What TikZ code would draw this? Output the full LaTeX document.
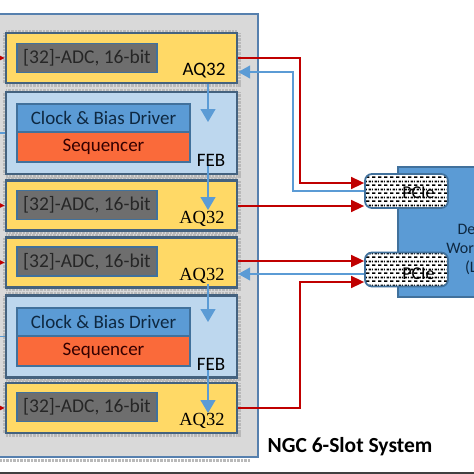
\documentclass[tikz,border=0pt]{standalone}
\usepackage{fontspec}
\setmainfont{Carlito}
\newfontfamily\timesfont{Liberation Serif}
\usetikzlibrary{arrows.meta,patterns}

\definecolor{chassisgray}{HTML}{D9D9D9}
\definecolor{chassisblue}{HTML}{5680AE}
\definecolor{slotblue}{HTML}{44627F}
\definecolor{aqyellow}{HTML}{FFD966}
\definecolor{feblue}{HTML}{BDD7EE}
\definecolor{adcgray}{HTML}{6E6E6E}
\definecolor{clkblue}{HTML}{5B9BD5}
\definecolor{boxblue}{HTML}{41719C}
\definecolor{seqorange}{HTML}{FA6A3A}
\definecolor{sigred}{HTML}{C00000}
\definecolor{navy}{HTML}{0E2841}

% dashed fill of the PCIe cards
\pgfdeclarepatternformonly{pciedash}{\pgfpointorigin}{\pgfpoint{6pt}{8pt}}{\pgfpoint{6pt}{8pt}}{%
  \pgfpathrectangle{\pgfpoint{0pt}{0pt}}{\pgfpoint{4pt}{1.8pt}}%
  \pgfpathrectangle{\pgfpoint{3pt}{4pt}}{\pgfpoint{3pt}{1.8pt}}%
  \pgfpathrectangle{\pgfpoint{0pt}{4pt}}{\pgfpoint{1pt}{1.8pt}}%
  \pgfusepath{fill}}

\newcommand{\txt}{\fontsize{19}{21}\selectfont}

\begin{document}
\begin{tikzpicture}[x=1pt, y=-1pt, inner sep=0pt,
    chassis/.style = {draw=chassisblue, line width=2pt, fill=chassisgray, minimum width=278pt, minimum height=443pt},
    slot/.style = {draw=slotblue, line width=2.4pt, minimum width=231pt,
                   preaction={draw=gray!55, line width=7pt, dash pattern=on 0.7pt off 0.7pt}},
    aqslot/.style = {slot, fill=aqyellow, minimum height=50pt},
    febslot/.style = {slot, fill=feblue, minimum height=82pt},
    adc/.style = {draw=boxblue, line width=1.5pt, fill=adcgray, minimum width=140pt, minimum height=29pt, font=\fontsize{19.5}{21}\selectfont, text=black!85},
    clk/.style = {draw=boxblue, line width=1.5pt, fill=clkblue, minimum width=173pt, minimum height=28pt, font=\txt, text=navy},
    seqbox/.style = {draw=boxblue, line width=1.5pt, fill=seqorange, minimum width=173pt, minimum height=30pt, font=\txt, text=black!80!red},
    aqlabel/.style = {font=\fontsize{18.5}{20}\selectfont\timesfont},
    feblabel/.style = {font=\txt},
    pcie/.style = {draw=boxblue, line width=1.8pt, rounded corners=7pt, minimum width=83pt, minimum height=34pt,
                   preaction={fill=white}, pattern=pciedash},
    ws/.style = {draw=boxblue, line width=1.5pt, fill=clkblue, minimum width=164pt, minimum height=130pt},
    sig/.style = {draw=sigred, line width=1.6pt, -{Triangle[length=13pt,width=12pt]}},
    ret/.style = {draw=clkblue, line width=1.2pt, -{Triangle[length=12pt,width=13pt]}},
    down/.style = {draw=clkblue, line width=1.2pt, -{Triangle[length=13pt,width=15pt]}}]
    \clip (0,0) rectangle (474,474);
    \fill[white] (0,0) rectangle (474,474);

    % chassis and slots
    \node[chassis] (ch) at (119,235.5) {};
    \draw[gray!55, line width=3pt, dash pattern=on 0.7pt off 0.7pt] (0,460) -- (250,460);
    \node[aqslot]  (s1) at (121.5,58)    {};
    \node[febslot] (s2) at (121.5,133)   {};
    \node[aqslot]  (s3) at (121.5,205.5) {};
    \node[aqslot]  (s4) at (121.5,262.5) {};
    \node[febslot] (s5) at (121.5,336.5) {};
    \node[aqslot]  (s6) at (121.5,408)   {};

    \node[adc] (a1) at (87,58)    {[32]-ADC, 16-bit};
    \node[adc] (a3) at (87,205)   {[32]-ADC, 16-bit};
    \node[adc] (a4) at (87,261.5) {[32]-ADC, 16-bit};
    \node[adc] (a6) at (87,407)   {[32]-ADC, 16-bit};

    \node[clk]    (c2) at (103.5,118) {Clock \& Bias Driver};
    \node[seqbox] (q2) at (103.5,147) {Sequencer};
    \node[clk]    (c5) at (103.5,322) {Clock \& Bias Driver};
    \node[seqbox] (q5) at (103.5,351) {Sequencer};

    \node[font=\txt] (l1) at (204,71) {AQ32};
    \node[aqlabel]   (l3) at (202,219) {AQ32};
    \node[aqlabel]   (l4) at (202,276) {AQ32};
    \node[aqlabel]   (l6) at (202,421) {AQ32};
    \node[feblabel]  (f2) at (211,160) {FEB};
    \node[feblabel]  (f5) at (211,364) {FEB};

    % clock hand-over between slots
    \coordinate (t2) at (208,122);
    \coordinate (t3) at (208,210);
    \coordinate (t5) at (208,322);
    \coordinate (t6) at (208,413);
    \draw[down] (s1.south -| t2) -- (t2);
    \draw[down] (f2.south -| t3) -- (t3);
    \draw[down] (l4.south -| t5) -- (t5);
    \draw[down] (f5.south -| t6) -- (t6);

    % workstation with PCIe cards
    \node[ws, label={[align=center, font=\fontsize{16}{19}\selectfont, text=navy, xshift=6pt, yshift=-17pt]center:Detector\\Workstation\\(LLCU)}] (ws) at (480,232) {};
    \node[pcie, label={[font=\fontsize{18}{20}\selectfont, xshift=12pt, yshift=-2pt]center:PCIe}] (p1) at (406.5,191) {};
    \node[pcie, label={[font=\fontsize{18}{20}\selectfont, xshift=12pt, yshift=-4pt]center:PCIe}] (p2) at (406.5,269.5) {};

    % data links
    \coordinate (r1) at (300,183);
    \coordinate (r6) at (300,282);
    \draw[sig] (s1.east) -| (r1) -- (r1 -| p1.west);
    \draw[sig] ([yshift=-0.5pt]s3.east) -- ([yshift=-0.5pt]s3.east -| p1.west);
    \draw[sig] ([yshift=1.5pt]s4.east) -- ([yshift=1.5pt]s4.east -| p2.west);
    \draw[sig] (s6.east) -| (r6) -- (r6 -| p2.west);

    % return links
    \coordinate (b1) at (293,72);
    \coordinate (b4) at (293,274);
    \draw[ret] (p1.west) -| (b1) -- (b1 -| s1.east);
    \draw[ret] (p2.west |- b4) -- (b4 -| s4.east);

    % inputs from the left
    \draw[sig] ([xshift=-20pt]s1.west) -- (s1.west);
    \draw[sig] ([xshift=-20pt]s3.west) -- (s3.west);
    \draw[sig] ([xshift=-20pt]s4.west) -- (s4.west);
    \draw[sig] ([xshift=-20pt]s6.west) -- (s6.west);
    \draw[ret, -] ([xshift=-20pt]s2.west) -- (s2.west);
    \draw[ret, -] ([xshift=-20pt]s5.west) -- (s5.west);

    \node[font=\fontsize{21.5}{24}\selectfont\bfseries] (ttl) at (350,447) {NGC 6-Slot System};
    \fill[black!75] (0,472) rectangle (474,474);
\end{tikzpicture}
\end{document}
